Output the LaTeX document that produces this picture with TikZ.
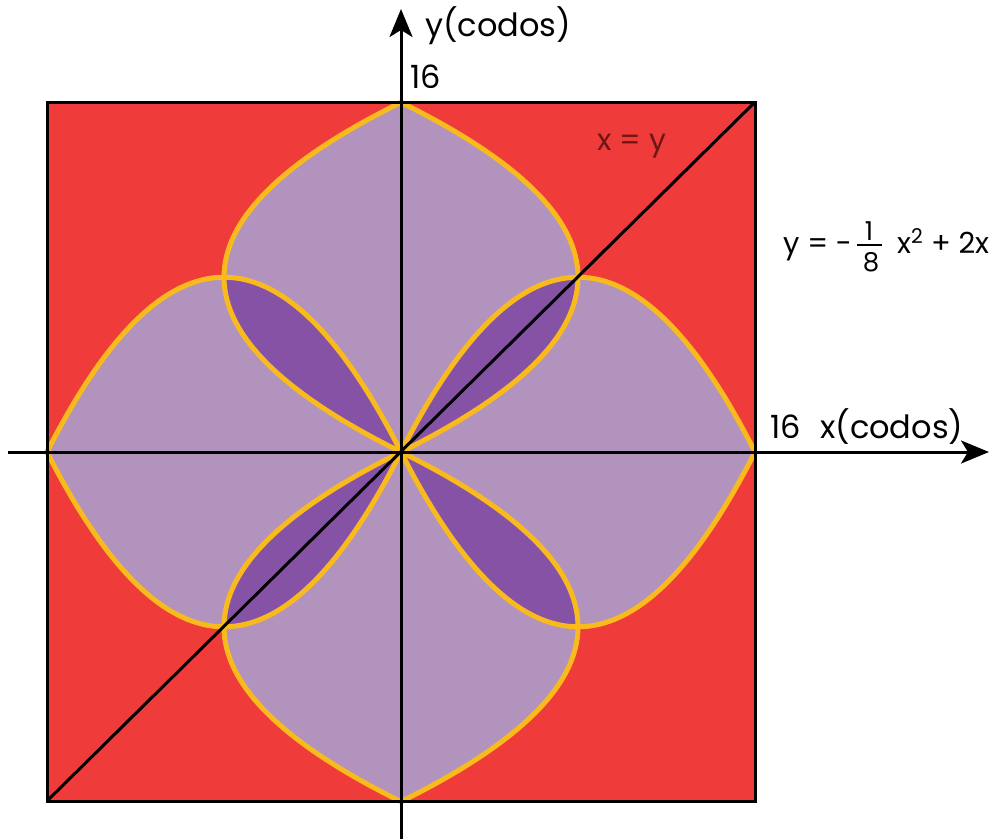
\documentclass[tikz,border=0pt]{standalone}
\usepackage{fontspec}
\setmainfont{Poppins}
\usetikzlibrary{arrows.meta}
\definecolor{bgred}{RGB}{239,59,57}
\definecolor{lightpurp}{RGB}{178,147,190}
\definecolor{darkpurp}{RGB}{134,82,166}
\definecolor{curveyel}{RGB}{248,186,28}
\definecolor{labelred}{RGB}{110,22,22}
\begin{document}
\begin{tikzpicture}[x=1pt,y=-1pt,
  curve/.style={draw=curveyel,line width=5pt,line join=round},
  axisline/.style={draw=black,line width=3pt,-{Stealth[length=28pt,width=23pt,inset=7pt]}},
  lab/.style={font=\fontsize{32}{38}\selectfont,inner sep=0pt,anchor=base west},
  formula/.style={font=\fontsize{29}{34}\selectfont,inner sep=0pt,anchor=base west},
  fracnum/.style={font=\fontsize{26}{30}\selectfont,inner sep=0pt,anchor=base}
]
\useasboundingbox (0,0) rectangle (1004,839);
\coordinate (O) at (401,452);
\fill[bgred] (47,102) rectangle (755,801);
\begin{scope}[shift={(O)},x=22.125pt,y=21.85pt]
  \foreach \sx/\sy in {1/1,-1/1,-1/-1,1/-1}{
    \begin{scope}[xscale=\sx,yscale=\sy]
      \fill[lightpurp] (0,0) .. controls (16/3,32/3) and (32/3,32/3) .. (16,0) -- cycle;
      \fill[lightpurp] (0,0) .. controls (32/3,16/3) and (32/3,32/3) .. (0,16) -- cycle;
    \end{scope}
  }
  \foreach \sx/\sy in {1/1,-1/1,-1/-1,1/-1}{
    \begin{scope}[xscale=\sx,yscale=\sy]
      \fill[darkpurp] (0,0) .. controls (8/3,16/3) and (16/3,8) .. (8,8)
                            .. controls (8,16/3) and (16/3,8/3) .. (0,0) -- cycle;
    \end{scope}
  }
  \foreach \sx/\sy in {1/1,-1/1,-1/-1,1/-1}{
    \begin{scope}[xscale=\sx,yscale=\sy]
      \draw[curve] (0,0) .. controls (16/3,32/3) and (32/3,32/3) .. (16,0);
      \draw[curve] (0,0) .. controls (32/3,16/3) and (32/3,32/3) .. (0,16);
    \end{scope}
  }
\end{scope}
\coordinate (dl) at (47,801);
\coordinate (ur) at (755,102);
\draw[black,line width=3pt] (dl) -- (ur);
\draw[black,line width=3pt] (47,102) rectangle (755,801);
\coordinate (xstart) at (8,452);
\coordinate (xend) at (989,452);
\coordinate (ystart) at (401,839);
\coordinate (yend) at (401,9);
\draw[axisline] (xstart) -- (xend);
\draw[axisline] (ystart) -- (yend);
\node[lab] (ylab) at (425,36) {y(codos)};
\node[lab] (ysix) at (410,88) {16};
\node[lab] (xsix) at (770,438) {16};
\node[lab] (xlab) at (820,438) {x(codos)};
\node[lab,font=\fontsize{30}{36}\selectfont,text=labelred] (diag) at (597,150) {x = y};
\node[formula] (fa) at (783,253) {y = -};
\node[fracnum] (fnum) at (869,240) {1};
\draw[black,line width=1.5pt] (857,245) -- (882,245);
\node[fracnum] (fden) at (871,271) {8};
\node[formula] (fb) at (897,253) {x\textsuperscript{2} + 2x};
\end{tikzpicture}
\end{document}
